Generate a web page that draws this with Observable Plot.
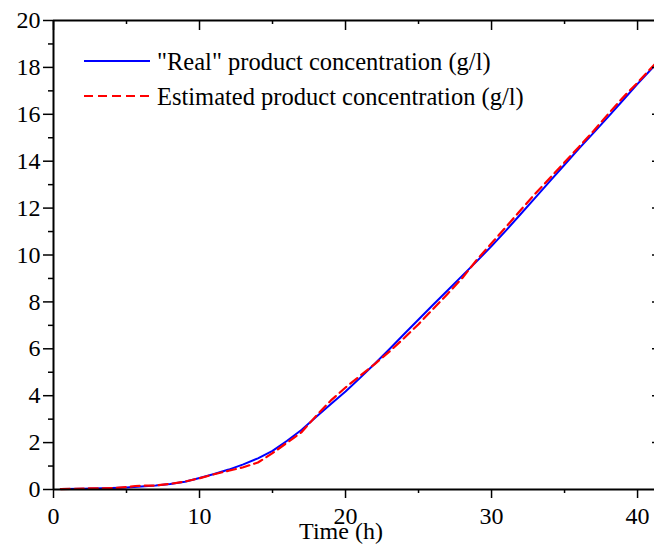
<!DOCTYPE html>
<html><head><meta charset="utf-8">
<script src="https://cdn.jsdelivr.net/npm/d3@7"></script>
<script src="https://cdn.jsdelivr.net/npm/@observablehq/plot@0.6"></script>
<style>
html,body{margin:0;padding:0;background:#fff;overflow:hidden}
svg{display:block}
#chart svg, #chart svg text{font-family:'Liberation Serif', serif !important;}
</style>
</head><body><div id="chart"></div>
<script>
// "Real" product concentration (blue solid)
const realTime = [0.5, 2, 4, 5, 6, 7, 8, 9, 10, 11, 12, 13, 14, 15, 16, 17, 18, 19, 20, 21, 22, 23, 24, 25, 26, 27, 28, 29, 30, 31, 32, 33, 34, 35, 36, 37, 38, 39, 40, 41.2];
const realConc = [0.02, 0.03, 0.06, 0.09, 0.13, 0.17, 0.23, 0.33, 0.49, 0.66, 0.85, 1.07, 1.33, 1.65, 2.08, 2.55, 3.1, 3.65, 4.18, 4.76, 5.36, 5.98, 6.62, 7.25, 7.88, 8.5, 9.12, 9.74, 10.38, 11.05, 11.75, 12.45, 13.15, 13.85, 14.55, 15.22, 15.9, 16.6, 17.3, 18.1];
// Estimated product concentration (red dashed)
const estTime = [0.5, 2, 4, 5, 5.6, 6, 7, 8, 9, 10, 11, 12, 13, 14, 15, 16, 17, 18, 19, 20, 21, 22, 23, 24, 25, 26, 27, 28, 29, 30, 31, 32, 33, 34, 35, 36, 37, 38, 39, 40, 41.2];
const estConc = [0.02, 0.04, 0.06, 0.1, 0.15, 0.16, 0.17, 0.24, 0.34, 0.48, 0.65, 0.8, 0.95, 1.15, 1.55, 2.0, 2.45, 3.15, 3.8, 4.35, 4.85, 5.35, 5.88, 6.45, 7.05, 7.7, 8.35, 9.02, 9.8, 10.5, 11.2, 11.92, 12.62, 13.28, 13.95, 14.62, 15.3, 16.02, 16.72, 17.35, 18.15];

const xMajor = [0, 10, 20, 30, 40];
const xMinor = [5, 15, 25, 35];
const yMajor = [0, 2, 4, 6, 8, 10, 12, 14, 16, 18, 20];
const yMinor = [1, 3, 5, 7, 9, 11, 13, 15, 17, 19];
const seriesLabels = ['"Real" product concentration (g/l)', 'Estimated product concentration (g/l)'];
const seriesColors = ["#0000ff", "#ff0000"];
const xLabel = "Time (h)";

const W = 654, H = 545, mL = 53, mR = 0, mT = 20, mB = 56;
const plotW = W - mL - mR, plotH = H - mT - mB;
const real = realTime.map((t, i) => ({t, v: realConc[i]}));
const est = estTime.map((t, i) => ({t, v: estConc[i]}));
const font = "Liberation Serif";

const plot = Plot.plot({
  width: W, height: H,
  marginLeft: mL, marginRight: mR, marginTop: mT, marginBottom: mB,
  style: {fontFamily: font, fontSize: "24px", color: "black", background: "white", overflow: "visible"},
  x: {domain: [0, 41.16], axis: null},
  y: {domain: [0, 20], axis: null},
  marks: [
    Plot.line(real, {x: "t", y: "v", stroke: seriesColors[0], strokeWidth: 2}),
    Plot.line(est, {x: "t", y: "v", stroke: seriesColors[1], strokeWidth: 2.2, strokeDasharray: "9,5"}),
    Plot.ruleY([0], {stroke: "black", strokeWidth: 2}),
    Plot.ruleY([20], {stroke: "black", strokeWidth: 2}),
    Plot.ruleX([0], {stroke: "black", strokeWidth: 2}),
    // bottom axis
    Plot.axisX(xMajor, {anchor: "bottom", tickSize: 9, tickPadding: 8, strokeWidth: 1.5, stroke: "black", fill: "black", fontSize: 24, fontVariant: "normal", label: null, tickFormat: d => String(d)}),
    Plot.axisX(xMinor, {anchor: "bottom", tickSize: 4, strokeWidth: 1.5, stroke: "black", label: null, tickFormat: () => ""}),
    // left axis
    Plot.axisY(yMajor, {anchor: "left", tickSize: 10, tickPadding: 3, strokeWidth: 1.5, stroke: "black", fill: "black", fontSize: 24, fontVariant: "normal", label: null, tickFormat: d => String(d)}),
    Plot.axisY(yMinor, {anchor: "left", tickSize: 5, strokeWidth: 1.5, stroke: "black", label: null, tickFormat: () => ""}),
    // top inward ticks
    Plot.ruleX(xMajor, {x: d => d, insetBottom: plotH - 10, stroke: "black", strokeWidth: 1.5}),
    Plot.ruleX(xMinor, {x: d => d, insetBottom: plotH - 4, stroke: "black", strokeWidth: 1.5}),
    // right inward ticks (axis lies just beyond the visible edge)
    Plot.ruleY(yMajor.slice(1, -1), {y: d => d, insetLeft: plotW - 2, stroke: "black", strokeWidth: 1.5}),
    // x axis title
    Plot.text([xLabel], {text: d => d, frameAnchor: "bottom", dx: -13, dy: 49, fontSize: 24, fill: "black"})
  ]
});
document.getElementById("chart").appendChild(plot);

// legend
const svg = d3.select(plot.tagName === "svg" ? plot : plot.querySelector("svg"));
const leg = svg.append("g").attr("font-size", 24.5).attr("text-anchor", "start");
const legY = [61, 96];
seriesLabels.forEach((lab, i) => {
  leg.append("line").attr("x1", 84).attr("x2", 150).attr("y1", legY[i]).attr("y2", legY[i])
    .attr("stroke", seriesColors[i]).attr("stroke-width", i === 1 ? 2.2 : 2)
    .attr("stroke-dasharray", i === 1 ? "9,5" : null);
  leg.append("text").attr("x", 157).attr("y", legY[i]).attr("dy", "0.35em")
    .attr("text-anchor", "start").attr("fill", "black").text(lab);
});
</script></body></html>
